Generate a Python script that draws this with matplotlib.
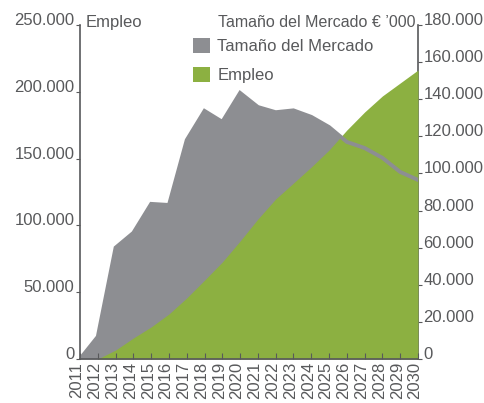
import matplotlib.pyplot as plt
import matplotlib.transforms as mtransforms

plt.rcParams['font.family'] = ['Liberation Sans', 'DejaVu Sans']

# datos
anios = list(range(2011, 2031))
empleo = [0, 0, 6700, 15700, 24000, 33700, 45700, 59000, 72600, 88300,
          104800, 119800, 131700, 143700, 156400, 171400, 184900, 196900, 206600, 216300]
mercado = [0, 12000, 60000, 68000, 83600, 83000, 118000, 133700, 127800, 143400,
           135800, 133000, 134000, 130500, 125000, 117000, 113700, 108400, 100800, 96500]
ticks_izq = [0, 50000, 100000, 150000, 200000, 250000]
ticks_der = [0, 20000, 40000, 60000, 80000, 100000, 120000, 140000, 160000, 180000]

gris = '#8d8e92'
verde = '#8cb041'
texto = '#58595b'


def miles(v):
    return f"{v:,.0f}".replace(',', '.')


fig = plt.figure(figsize=(4.84, 4.03), dpi=100)
ax = fig.add_axes([80 / 484, 1 - 359 / 403, 338 / 484, 334 / 403])
ax2 = ax.twinx()
ax.set_zorder(ax2.get_zorder() + 1)
ax.patch.set_visible(False)

ax2.fill_between(anios, mercado, 0, color=gris, linewidth=0, label='Tamaño del Mercado')
ax.fill_between(anios, empleo, 0, color=verde, linewidth=0, label='Empleo')
ax.plot(anios, mercado, color=gris, linewidth=2.8, transform=ax2.transData, solid_joinstyle='miter')

ax.set_xlim(2011, 2030)
ax.set_ylim(0, 250000)
ax2.set_ylim(0, 180000)

ax.set_xticks(anios)
ax.set_xticklabels([str(a) for a in anios], rotation=90)
ax.set_yticks(ticks_izq)
ax.set_yticklabels([miles(v) for v in ticks_izq])
ax2.set_yticks(ticks_der)
ax2.set_yticklabels([miles(v) for v in ticks_der])

for a in (ax, ax2):
    for s in a.spines.values():
        s.set_visible(False)
ax.spines['left'].set_visible(True)
ax.spines['bottom'].set_visible(True)
ax2.spines['right'].set_visible(True)
for s in (ax.spines['left'], ax.spines['bottom'], ax2.spines['right']):
    s.set_color(texto)
    s.set_linewidth(1.2)

ax.tick_params(axis='y', direction='out', length=3, pad=1, colors=texto, labelsize=12)
ax2.tick_params(axis='y', direction='out', length=3, pad=1, colors=texto, labelsize=12)
ax.tick_params(axis='x', direction='in', length=4, pad=2, colors=texto, labelsize=12)
for lbl in ax.get_yticklabels() + ax2.get_yticklabels():
    lbl.set_verticalalignment('baseline')

# etiquetas del eje x un poco a la izquierda de cada marca
desplaza = mtransforms.ScaledTranslation(-3 / 100, 0, fig.dpi_scale_trans)
for lbl in ax.get_xticklabels():
    lbl.set_transform(lbl.get_transform() + desplaza)

fig.text(86 / 484, 1 - 27 / 403, 'Empleo', color=texto, fontsize=12, va='baseline')
fig.text(415 / 484, 1 - 27 / 403, 'Tamaño del Mercado € ’000', color=texto, fontsize=11.5,
         va='baseline', ha='right')

h1, l1 = ax2.get_legend_handles_labels()
h2, l2 = ax.get_legend_handles_labels()
fig.legend(h1 + h2, l1 + l2, loc='upper left', bbox_to_anchor=(193 / 484, 1 - 38 / 403),
           frameon=False, fontsize=12, labelcolor=texto, handlelength=1.0, handleheight=1.0,
           handletextpad=0.45, labelspacing=0.75, borderpad=0, borderaxespad=0)

fig.savefig('out.png', dpi=100)
